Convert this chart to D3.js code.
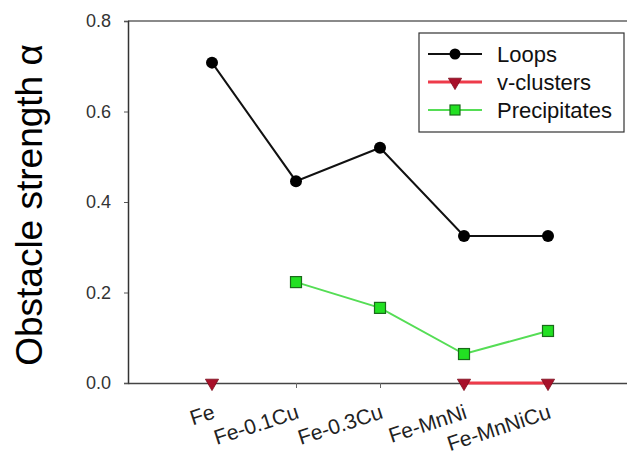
<!DOCTYPE html>
<html>
<head>
<meta charset="utf-8">
<script src="https://cdn.jsdelivr.net/npm/d3@7"></script>
<style>
  body { margin: 0; background: #fff; }
  text { font-family: "Liberation Sans", Arial, sans-serif; }
</style>
</head>
<body>
<script>
'use strict';

// data
const categories = ["Fe", "Fe-0.1Cu", "Fe-0.3Cu", "Fe-MnNi", "Fe-MnNiCu"];
const loops = [0.708, 0.446, 0.52, 0.325, 0.325];
const vClusters = [0, null, null, 0, 0];
const precipitates = [null, 0.223, 0.166, 0.064, 0.115];
const yTicks = [0.0, 0.2, 0.4, 0.6, 0.8];
const seriesNames = ["Loops", "v-clusters", "Precipitates"];

let svgContainer = d3.select('body')
  .append('svg')
  .attr('width', 627)
  .attr('height', 459);

(function() {
  // x is category index (0 and 6 are empty padding slots)
  let xScale = d3.scaleLinear().domain([0, 6]).range([128, 632]);
  let yScale = d3.scaleLinear().domain([0, 0.8]).range([383, 21]);

  // top frame line
  svgContainer.append('line')
    .attr('x1', xScale(0)).attr('x2', 627)
    .attr('y1', yScale(0.8)).attr('y2', yScale(0.8))
    .attr('stroke', '#8a8a8a')
    .attr('stroke-width', 2);

  // y axis
  let yAxis = d3.axisLeft(yScale)
    .tickValues(yTicks)
    .tickFormat(d3.format('.1f'))
    .tickSize(4)
    .tickPadding(13);
  let gy = svgContainer.append('g')
    .attr('transform', 'translate(' + xScale(0) + ',0)')
    .call(yAxis);
  gy.select('.domain').attr('stroke', '#333').attr('stroke-width', 1.5);
  gy.selectAll('.tick line').attr('stroke', '#555');
  gy.selectAll('.tick text')
    .attr('fill', '#333')
    .style('font-size', '18px');

  // x axis
  let xAxis = d3.axisBottom(xScale)
    .tickValues([1, 2, 3, 4, 5])
    .tickFormat('')
    .tickSizeInner(5)
    .tickSizeOuter(0);
  let gx = svgContainer.append('g')
    .attr('transform', 'translate(0,' + yScale(0) + ')')
    .call(xAxis);
  gx.select('.domain').attr('stroke', '#444').attr('stroke-width', 1.5);
  gx.selectAll('.tick line').attr('stroke', '#666');

  // rotated category labels
  svgContainer.append('g')
    .selectAll('text')
    .data(categories)
    .enter()
    .append('text')
    .attr('transform', (d, i) => 'translate(' + (xScale(i + 1) + 4) + ',' + (yScale(0) + 35) + ')rotate(-18)')
    .attr('text-anchor', 'end')
    .attr('fill', '#222')
    .style('font-size', '21px')
    .text(d => d);

  // y axis title
  svgContainer.append('text')
    .attr('transform', 'translate(42, 205)rotate(-90)')
    .attr('text-anchor', 'middle')
    .attr('fill', '#000')
    .style('font-size', '37px')
    .text('Obstacle strength α');

  let line = d3.line()
    .defined(d => d.v !== null)
    .x(d => xScale(d.i + 1))
    .y(d => yScale(d.v));

  function toPoints(arr) {
    return arr.map((v, i) => ({ i: i, v: v }));
  }

  // Loops
  svgContainer.append('path')
    .datum(toPoints(loops))
    .attr('d', line)
    .attr('fill', 'none')
    .attr('stroke', '#111')
    .attr('stroke-width', 2);
  svgContainer.append('g').selectAll('circle')
    .data(toPoints(loops))
    .enter().append('circle')
    .attr('cx', d => xScale(d.i + 1))
    .attr('cy', d => yScale(d.v))
    .attr('r', 6)
    .attr('fill', '#000');

  // v-clusters
  svgContainer.append('path')
    .datum(toPoints(vClusters))
    .attr('d', line)
    .attr('fill', 'none')
    .attr('stroke', '#ee3b4a')
    .attr('stroke-width', 3);
  let tri = d3.symbol().type(d3.symbolTriangle).size(75);
  svgContainer.append('g').selectAll('path')
    .data(toPoints(vClusters).filter(d => d.v !== null))
    .enter().append('path')
    .attr('d', tri)
    .attr('transform', d => 'translate(' + xScale(d.i + 1) + ',' + yScale(d.v) + ')rotate(180)')
    .attr('fill', '#a8102a')
    .attr('stroke', '#7a0a1a')
    .attr('stroke-width', 0.8);

  // Precipitates
  svgContainer.append('path')
    .datum(toPoints(precipitates))
    .attr('d', line)
    .attr('fill', 'none')
    .attr('stroke', '#55dd55')
    .attr('stroke-width', 2);
  svgContainer.append('g').selectAll('rect')
    .data(toPoints(precipitates).filter(d => d.v !== null))
    .enter().append('rect')
    .attr('x', d => xScale(d.i + 1) - 5.5)
    .attr('y', d => yScale(d.v) - 5.5)
    .attr('width', 11)
    .attr('height', 11)
    .attr('fill', '#22e022')
    .attr('stroke', '#1a6a1a')
    .attr('stroke-width', 1.2);

  // legend
  let legend = svgContainer.append('g').attr('transform', 'translate(419,33)');
  legend.append('rect')
    .attr('width', 205).attr('height', 99)
    .attr('fill', '#fff')
    .attr('stroke', '#333')
    .attr('stroke-width', 1.2);
  let legendColors = ['#111', '#ee3b4a', '#55dd55'];
  seriesNames.forEach((name, k) => {
    let y = 21 + k * 28;
    legend.append('line')
      .attr('x1', 9).attr('x2', 63)
      .attr('y1', y).attr('y2', y)
      .attr('stroke', legendColors[k])
      .attr('stroke-width', k == 1 ? 3 : 2);
    if (k == 0) {
      legend.append('circle').attr('cx', 36).attr('cy', y).attr('r', 5.5).attr('fill', '#000');
    } else if (k == 1) {
      legend.append('path').attr('d', tri)
        .attr('transform', 'translate(36,' + y + ')rotate(180)')
        .attr('fill', '#a8102a').attr('stroke', '#7a0a1a').attr('stroke-width', 0.8);
    } else {
      legend.append('rect').attr('x', 31).attr('y', y - 5).attr('width', 10).attr('height', 10)
        .attr('fill', '#22e022').attr('stroke', '#1a6a1a').attr('stroke-width', 1.2);
    }
    legend.append('text')
      .attr('x', 78)
      .attr('y', y)
      .attr('dy', '0.35em')
      .attr('fill', '#111')
      .style('font-size', '22px')
      .text(name);
  });
})();
</script>
</body>
</html>
